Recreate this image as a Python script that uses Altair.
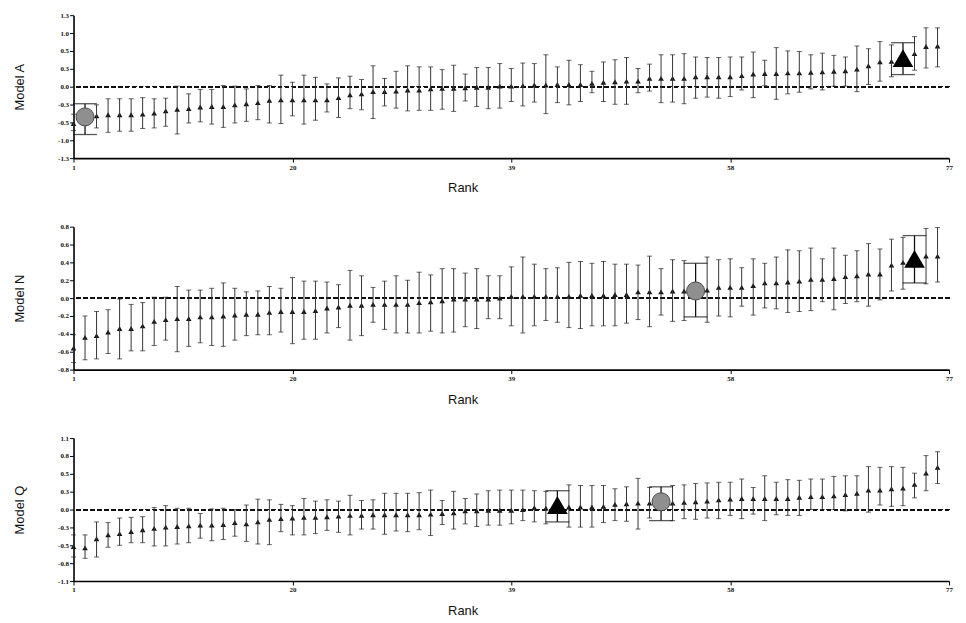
import altair as alt
import pandas as pd

# ---------------- data ----------------
ranks = list(range(1, 77))
x_ticks = [1, 20, 39, 58, 77]

# Model A
est_A = [-0.67, -0.55, -0.53, -0.51, -0.51, -0.51, -0.50, -0.48, -0.44, -0.41,
         -0.40, -0.37, -0.36, -0.36, -0.33, -0.31, -0.29, -0.25, -0.24, -0.24,
         -0.24, -0.24, -0.24, -0.20, -0.15, -0.13, -0.09, -0.09, -0.08, -0.06,
         -0.06, -0.04, -0.03, -0.03, -0.02, -0.01, -0.01, 0.01, 0.01, 0.02,
         0.03, 0.03, 0.04, 0.04, 0.04, 0.06, 0.08, 0.09, 0.10, 0.10,
         0.15, 0.15, 0.15, 0.15, 0.18, 0.18, 0.18, 0.18, 0.20, 0.23,
         0.24, 0.24, 0.25, 0.25, 0.26, 0.27, 0.28, 0.29, 0.32, 0.38,
         0.45, 0.46, 0.52, 0.60, 0.73, 0.74]
lo_A = [-0.80, -0.87, -0.75, -0.83, -0.81, -0.81, -0.76, -0.75, -0.72, -0.86,
        -0.66, -0.64, -0.68, -0.74, -0.66, -0.63, -0.60, -0.66, -0.67, -0.53,
        -0.68, -0.61, -0.46, -0.56, -0.40, -0.42, -0.58, -0.35, -0.39, -0.44,
        -0.43, -0.43, -0.41, -0.45, -0.26, -0.36, -0.40, -0.39, -0.27, -0.35,
        -0.28, -0.49, -0.29, -0.33, -0.27, -0.11, -0.27, -0.32, -0.32, -0.11,
        -0.08, -0.29, -0.28, -0.31, -0.21, -0.19, -0.21, -0.18, -0.06, -0.20,
        0.02, -0.23, -0.13, -0.10, -0.04, -0.06, 0.01, 0.01, -0.09, 0.04,
        0.10, 0.18, 0.22, 0.30, 0.34, 0.36]
hi_A = [-0.50, -0.31, -0.33, -0.22, -0.22, -0.22, -0.20, -0.22, -0.21, 0.01,
        -0.13, -0.05, -0.05, 0.02, 0.01, -0.04, 0.02, 0.02, 0.21, 0.08,
        0.21, 0.17, 0.05, 0.16, 0.19, 0.13, 0.38, 0.15, 0.28, 0.38,
        0.36, 0.36, 0.31, 0.39, 0.23, 0.35, 0.35, 0.42, 0.33, 0.43,
        0.42, 0.58, 0.36, 0.48, 0.40, 0.28, 0.45, 0.49, 0.53, 0.33,
        0.41, 0.58, 0.58, 0.60, 0.54, 0.53, 0.53, 0.54, 0.54, 0.63,
        0.48, 0.71, 0.65, 0.64, 0.58, 0.61, 0.57, 0.54, 0.74, 0.69,
        0.82, 0.76, 0.80, 0.91, 1.07, 1.07]

# Model N
est_N = [-0.56, -0.44, -0.42, -0.38, -0.34, -0.34, -0.31, -0.26, -0.24, -0.23,
         -0.23, -0.21, -0.21, -0.20, -0.19, -0.18, -0.18, -0.16, -0.15, -0.15,
         -0.15, -0.14, -0.11, -0.10, -0.08, -0.08, -0.07, -0.07, -0.07, -0.07,
         -0.05, -0.04, -0.03, -0.01, -0.01, -0.01, -0.01, 0.00, 0.02, 0.02,
         0.02, 0.02, 0.02, 0.02, 0.03, 0.03, 0.03, 0.04, 0.04, 0.07,
         0.07, 0.07, 0.08, 0.08, 0.08, 0.09, 0.12, 0.12, 0.12, 0.14,
         0.17, 0.17, 0.18, 0.19, 0.21, 0.21, 0.22, 0.24, 0.25, 0.27,
         0.27, 0.37, 0.40, 0.44, 0.47, 0.47]
lo_N = [-0.72, -0.69, -0.68, -0.62, -0.68, -0.59, -0.59, -0.53, -0.47, -0.60,
        -0.54, -0.50, -0.53, -0.54, -0.47, -0.42, -0.41, -0.41, -0.38, -0.51,
        -0.46, -0.46, -0.39, -0.33, -0.47, -0.42, -0.27, -0.35, -0.39, -0.39,
        -0.39, -0.37, -0.39, -0.38, -0.32, -0.34, -0.23, -0.23, -0.31, -0.39,
        -0.31, -0.25, -0.27, -0.33, -0.34, -0.31, -0.31, -0.31, -0.28, -0.24,
        -0.32, -0.19, -0.26, -0.25, -0.21, -0.27, -0.20, -0.21, -0.09, -0.19,
        -0.11, -0.12, -0.16, -0.15, -0.14, -0.04, -0.13, -0.06, -0.04, -0.09,
        -0.02, 0.08, 0.10, 0.17, 0.16, 0.18]
hi_N = [-0.41, -0.20, -0.15, -0.13, -0.01, -0.07, -0.05, 0.01, 0.01, 0.13,
        0.09, 0.09, 0.11, 0.17, 0.11, 0.07, 0.08, 0.13, 0.11, 0.23,
        0.19, 0.19, 0.18, 0.15, 0.31, 0.25, 0.12, 0.19, 0.25, 0.20,
        0.29, 0.26, 0.33, 0.33, 0.28, 0.33, 0.25, 0.25, 0.35, 0.46,
        0.38, 0.33, 0.34, 0.40, 0.41, 0.39, 0.41, 0.38, 0.38, 0.37,
        0.47, 0.33, 0.43, 0.42, 0.39, 0.46, 0.43, 0.44, 0.34, 0.44,
        0.39, 0.46, 0.54, 0.53, 0.56, 0.44, 0.56, 0.48, 0.53, 0.61,
        0.55, 0.66, 0.68, 0.70, 0.78, 0.79]

# Model Q
est_Q = [-0.57, -0.59, -0.45, -0.39, -0.37, -0.34, -0.31, -0.29, -0.27, -0.26,
         -0.25, -0.24, -0.24, -0.23, -0.20, -0.22, -0.19, -0.15, -0.14, -0.13,
         -0.12, -0.12, -0.11, -0.10, -0.09, -0.09, -0.08, -0.08, -0.08, -0.08,
         -0.08, -0.07, -0.06, -0.05, -0.02, -0.02, -0.01, -0.01, -0.01, 0.00,
         0.03, 0.02, 0.07, 0.04, 0.04, 0.04, 0.05, 0.08, 0.09, 0.10,
         0.10, 0.12, 0.10, 0.11, 0.12, 0.13, 0.15, 0.16, 0.17, 0.17,
         0.17, 0.17, 0.17, 0.19, 0.20, 0.20, 0.21, 0.23, 0.25, 0.30,
         0.30, 0.32, 0.33, 0.39, 0.56, 0.65]
lo_Q = [-0.73, -0.75, -0.73, -0.58, -0.55, -0.51, -0.51, -0.56, -0.56, -0.53,
        -0.51, -0.44, -0.48, -0.46, -0.41, -0.49, -0.53, -0.54, -0.34, -0.39,
        -0.39, -0.37, -0.32, -0.35, -0.39, -0.30, -0.30, -0.38, -0.33, -0.34,
        -0.31, -0.40, -0.23, -0.30, -0.22, -0.26, -0.24, -0.24, -0.22, -0.17,
        -0.19, -0.22, -0.19, -0.27, -0.27, -0.27, -0.20, -0.17, -0.18, -0.30,
        -0.13, -0.17, -0.17, -0.14, -0.15, -0.13, -0.14, -0.09, -0.14, -0.07,
        -0.17, -0.08, -0.09, -0.09, 0.00, 0.00, 0.00, -0.02, 0.00, -0.04,
        0.07, 0.05, 0.06, 0.18, 0.29, 0.40]
hi_Q = [-0.39, -0.39, -0.19, -0.20, -0.13, -0.12, -0.11, 0.03, 0.06, 0.02,
        0.02, -0.06, 0.01, 0.02, 0.00, 0.07, 0.16, 0.15, 0.08, 0.06,
        0.17, 0.13, 0.15, 0.13, 0.22, 0.14, 0.15, 0.25, 0.25, 0.25,
        0.26, 0.30, 0.14, 0.28, 0.17, 0.24, 0.29, 0.30, 0.30, 0.30,
        0.29, 0.28, 0.29, 0.38, 0.37, 0.37, 0.37, 0.32, 0.35, 0.48,
        0.34, 0.35, 0.37, 0.38, 0.40, 0.41, 0.42, 0.42, 0.47, 0.34,
        0.52, 0.42, 0.46, 0.45, 0.47, 0.47, 0.51, 0.52, 0.52, 0.66,
        0.65, 0.66, 0.65, 0.56, 0.83, 0.89]

# highlighted units (rank of big triangle, rank of grey circle)
tri_A, circ_A = 73, 2
tri_N, circ_N = 74, 55
tri_Q, circ_Q = 43, 52

# y-axis ranges and tick labels (bottom to top)
dom_A = [-1.3, 1.3]
lab_A = ["-1.3", "-1.0", "-0.5", "-0.3", "0.0", "0.3", "0.5", "1.0", "1.3"]
dom_N = [-0.8, 0.8]
lab_N = ["-0.8", "-0.6", "-0.4", "-0.2", "0.0", "0.2", "0.4", "0.6", "0.8"]
dom_Q = [-1.1, 1.1]
lab_Q = ["-1.1", "-0.8", "-0.5", "-0.3", "0.0", "0.3", "0.5", "0.8", "1.1"]

W, H = 882, 144
LABEL_FONT = "Liberation Serif"
TITLE_FONT = "Liberation Sans"


def panel(title, est, lo, hi, tri_r, circ_r, dom, labels):
    kinds = []
    for r in ranks:
        if r == tri_r:
            kinds.append("tri")
        elif r == circ_r:
            kinds.append("circ")
        else:
            kinds.append("normal")
    df = pd.DataFrame({"rank": ranks, "est": est, "lo": lo, "hi": hi, "kind": kinds})
    step = (dom[1] - dom[0]) / 8
    tick_vals = [dom[0] + i * step for i in range(9)]
    tern = " : ".join("abs(datum.value - (%r)) < 0.01 ? '%s'" % (v, l)
                      for v, l in zip(tick_vals, labels)) + " : ''"

    x_axis = alt.Axis(values=x_ticks, title="Rank", format="d", grid=False,
                      titleX=392, titlePadding=12, labelOverlap=False, labelFlush=False)
    x = alt.X("rank:Q", scale=alt.Scale(domain=[1, 77], nice=False, zero=False), axis=x_axis)
    y_scale = alt.Scale(domain=dom, nice=False, zero=False)
    y_axis = alt.Axis(values=tick_vals, labelExpr=tern, title=title, grid=False,
                      titlePadding=31, labelOverlap=False, labelFlush=False)

    def Y(field):
        return alt.Y(field, scale=y_scale, axis=y_axis)

    base = alt.Chart(df).encode(x=x)
    zero = alt.Chart(df).mark_rule(color="#111", strokeDash=[4, 3], strokeWidth=1.2).encode(
        y=alt.datum(0, scale=y_scale, axis=y_axis))
    normal = base.transform_filter("datum.kind == 'normal'")
    special = base.transform_filter("datum.kind != 'normal'")

    bars = normal.mark_rule(color="#333", strokeWidth=1).encode(y=Y("lo:Q"), y2="hi:Q")
    cap_lo = normal.mark_tick(orient="horizontal", size=5, thickness=1, color="#222").encode(
        y=Y("lo:Q"))
    cap_hi = normal.mark_tick(orient="horizontal", size=5, thickness=1, color="#222").encode(
        y=Y("hi:Q"))
    pts = normal.mark_point(shape="triangle-up", filled=True, size=32, color="#111",
                            opacity=1).encode(y=Y("est:Q"))

    sbars = special.mark_rule(color="#111", strokeWidth=1.3).encode(y=Y("lo:Q"), y2="hi:Q")
    scap_lo = special.mark_tick(orient="horizontal", size=24, thickness=1.3, color="#111").encode(
        y=Y("lo:Q"))
    scap_hi = special.mark_tick(orient="horizontal", size=24, thickness=1.3, color="#111").encode(
        y=Y("hi:Q"))
    big_tri = base.transform_filter("datum.kind == 'tri'").mark_point(
        shape="triangle-up", filled=True, size=430, color="#000", opacity=1).encode(y=Y("est:Q"))
    circ = base.transform_filter("datum.kind == 'circ'").mark_point(
        shape="circle", filled=True, size=330, fill="#8f8f8f", stroke="#4a4a4a",
        strokeWidth=1, opacity=1).encode(y=Y("est:Q"))

    return alt.layer(pts, zero, bars, cap_lo, cap_hi, sbars, scap_lo, scap_hi,
                     big_tri, circ).properties(width=W, height=H)


pA = panel("Model  A", est_A, lo_A, hi_A, tri_A, circ_A, dom_A, lab_A)
pN = panel("Model  N", est_N, lo_N, hi_N, tri_N, circ_N, dom_N, lab_N)
pQ = panel("Model  Q", est_Q, lo_Q, hi_Q, tri_Q, circ_Q, dom_Q, lab_Q)

chart = alt.vconcat(pA, pN, pQ, spacing=28).properties(
    padding={"left": 5, "top": 1, "right": 5, "bottom": 1}
).configure_view(stroke=None).configure_axis(
    grid=False,
    domainColor="#000",
    domainWidth=1.6,
    tickColor="#000",
    tickSize=4,
    tickWidth=1,
    labelFont=LABEL_FONT,
    labelFontSize=7,
    labelFontWeight="bold",
    labelColor="#111",
    labelPadding=1,
    titleFont=TITLE_FONT,
    titleFontSize=13,
    titleFontWeight="normal",
    titleColor="#111",
)

chart.save("out.html", embed_options={"renderer": "svg", "actions": False})
